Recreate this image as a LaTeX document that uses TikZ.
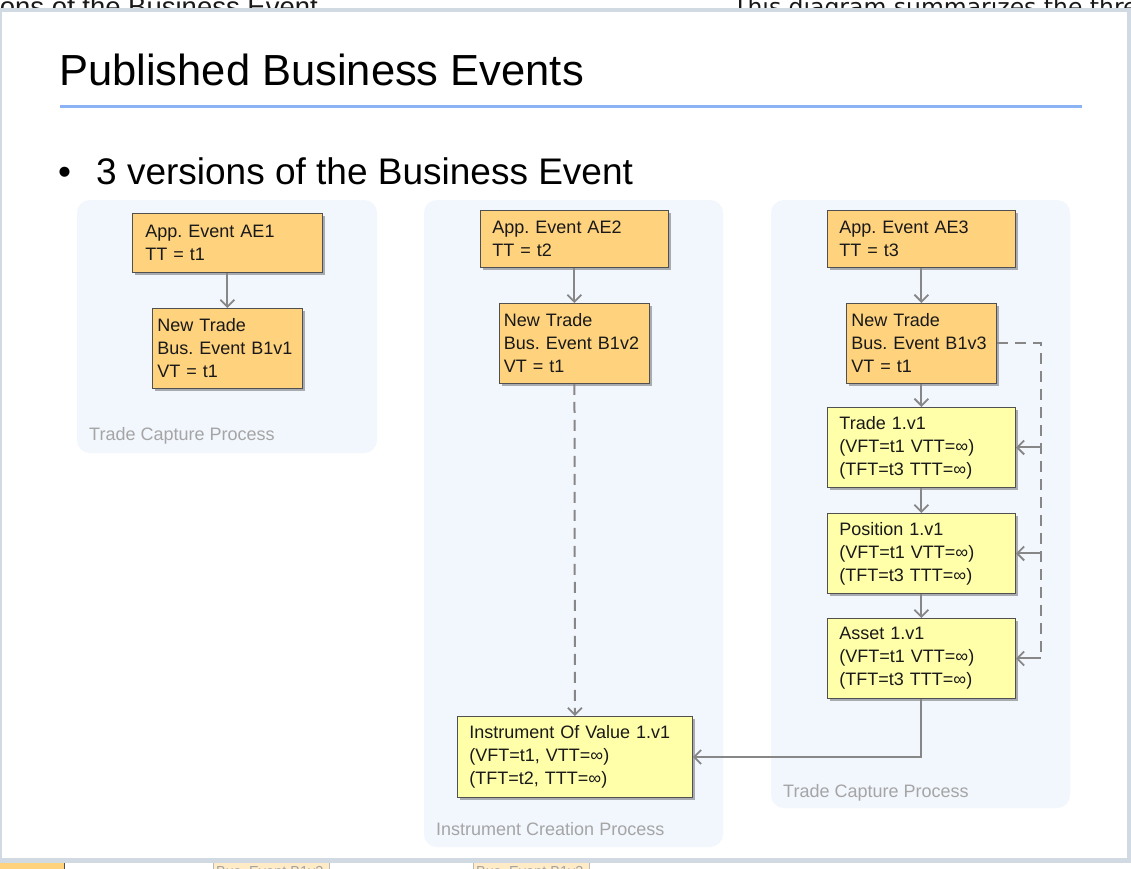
\documentclass[tikz,border=0pt]{standalone}
\usepackage{fontspec}
\setmainfont{Liberation Sans}
\newfontfamily\dejavu{DejaVu Sans}
\usetikzlibrary{arrows.meta,shadows}
\frenchspacing
\definecolor{framegray}{RGB}{209,217,227}
\definecolor{panelblue}{RGB}{242,246,253}
\definecolor{orangefill}{RGB}{255,210,125}
\definecolor{yellowfill}{RGB}{255,255,170}
\definecolor{boxborder}{RGB}{80,80,80}
\definecolor{arrowgray}{RGB}{135,135,135}
\definecolor{lblgray}{RGB}{165,165,165}
\definecolor{titleblue}{RGB}{138,178,245}
\definecolor{txt}{RGB}{25,25,25}
\tikzset{
  box/.style={draw=boxborder, line width=0.9pt, anchor=north west, align=left,
    text=txt, inner ysep=0pt, font=\fontsize{18}{23}\selectfont,
    drop shadow={shadow xshift=2.5pt, shadow yshift=-2.5pt, opacity=0.3, fill=black}},
  obox/.style={box, fill=orangefill},
  ybox/.style={box, fill=yellowfill},
  tip/.style={-{Straight Barb[length=7pt,width=14pt,line width=1.8pt]}},
  arr/.style={draw=arrowgray, line width=2pt, tip},
  dline/.style={draw=arrowgray, line width=2pt, dash pattern=on 11pt off 7pt},
  lbl/.style={text=lblgray, font=\fontsize{18}{22}\selectfont, anchor=base west, inner sep=0pt},
  panel/.style={fill=panelblue, rounded corners=13pt},
}
\begin{document}
\begin{tikzpicture}[x=1pt,y=-1pt]
\useasboundingbox (0,0) rectangle (1131,868);
\clip (0,0) rectangle (1131,868);
\fill[white] (0,0) rectangle (1131,868);
% text behind the frame (cut off)
\node[anchor=base east, inner sep=0pt, text=txt, font=\fontsize{27.5}{30}\selectfont] (topl) at (318,16) {ons of the Business Event};
\node[anchor=base west, inner sep=0pt, text=txt, font=\dejavu\fontsize{23.5}{28}\selectfont] (topr) at (733,15) {This diagram summarizes the three};
% bottom fragments
\filldraw[fill=orangefill, draw=boxborder, line width=0.8pt] (-5,860) rectangle (64,900);
\fill[orangefill!45] (213,860) rectangle (329,900);
\draw[boxborder!40] (213,860) rectangle (329,900);
\node[anchor=base west, inner sep=0pt, text=txt!40, font=\fontsize{14.5}{16}\selectfont] (frag1) at (216,876) {Bus. Event B1v2};
\fill[orangefill!45] (473,860) rectangle (589,900);
\draw[boxborder!40] (473,860) rectangle (589,900);
\node[anchor=base west, inner sep=0pt, text=txt!40, font=\fontsize{14.5}{16}\selectfont] (frag2) at (476,876) {Bus. Event B1v3};
% frame and slide
\fill[framegray] (0,8) rectangle (1131,863);
\fill[white] (2,12) rectangle (1127,858);
% title
\node[anchor=base west, inner sep=0pt, text=black, font=\fontsize{43.5}{48}\selectfont] (title) at (59,85) {Published Business Events};
\draw[titleblue, line width=3pt] (60,106.5) -- (1082,106.5);
\node[anchor=base west, inner sep=0pt, text=black, font=\fontsize{37}{42}\selectfont] (bul) at (58,184) {\textbullet};
\node[anchor=base west, inner sep=0pt, text=black, font=\fontsize{37}{42}\selectfont] (sub) at (96,184) {3 versions of the Business Event};
% panels
\fill[panel] (77,200) rectangle (377,453);
\fill[panel] (424,200) rectangle (723,847);
\fill[panel] (771,200) rectangle (1070,808);
% boxes
\node[obox, text width=164pt, inner xsep=13pt, minimum height=59pt] (ae1) at (132,213) {App. Event AE1\\TT = t1};
\node[obox, text width=140pt, inner xsep=5pt, minimum height=80pt] (b1v1) at (152,308) {New Trade\\Bus. Event B1v1\\VT = t1};
\node[obox, text width=164pt, inner xsep=12pt, minimum height=57pt] (ae2) at (480,210) {App. Event AE2\\TT = t2};
\node[obox, text width=141pt, inner xsep=4.5pt, minimum height=80pt] (b1v2) at (499,303) {New Trade\\Bus. Event B1v2\\VT = t1};
\node[obox, text width=164pt, inner xsep=12pt, minimum height=57pt] (ae3) at (827,210) {App. Event AE3\\TT = t3};
\node[obox, text width=140pt, inner xsep=5pt, minimum height=80pt] (b1v3) at (846,303) {New Trade\\Bus. Event B1v3\\VT = t1};
\node[ybox, text width=164pt, inner xsep=12pt, minimum height=80pt] (trade) at (827,407) {Trade 1.v1\\(VFT=t1 VTT=∞)\\(TFT=t3 TTT=∞)};
\node[ybox, text width=164pt, inner xsep=12pt, minimum height=80pt] (pos) at (827,513) {Position 1.v1\\(VFT=t1 VTT=∞)\\(TFT=t3 TTT=∞)};
\node[ybox, text width=164pt, inner xsep=12pt, minimum height=80pt] (asset) at (827,618) {Asset 1.v1\\(VFT=t1 VTT=∞)\\(TFT=t3 TTT=∞)};
\node[ybox, text width=211pt, inner xsep=12pt, minimum height=81pt] (inst) at (457,716) {Instrument Of Value 1.v1\\(VFT=t1, VTT=∞)\\(TFT=t2, TTT=∞)};
% labels
\node[lbl] (l1) at (89,440.5) {Trade Capture Process};
\node[lbl] (l2) at (436,835) {Instrument Creation Process};
\node[lbl] (l3) at (783,797) {Trade Capture Process};
% connectors
\draw[arr] (ae1) -- (b1v1);
\draw[arr] (ae2) -- (b1v2);
\draw[arr] (ae3) -- (b1v3);
\draw[arr] (b1v3) -- (trade);
\draw[arr] (trade) -- (pos);
\draw[arr] (pos) -- (asset);
\draw[dline, tip] (b1v2.south) -- (inst.north);
\draw[arr] (asset.south) |- (inst.east);
\coordinate (dtop) at (1041,343);
\coordinate (dbot) at (1041,658);
\draw[dline] (b1v3.east |- dtop) -- (dtop) -- (dbot);
\draw[arr] (dtop |- trade.east) -- (trade.east);
\draw[arr] (dtop |- pos.east) -- (pos.east);
\draw[arr] (dtop |- asset.east) -- (asset.east);
\end{tikzpicture}
\end{document}
